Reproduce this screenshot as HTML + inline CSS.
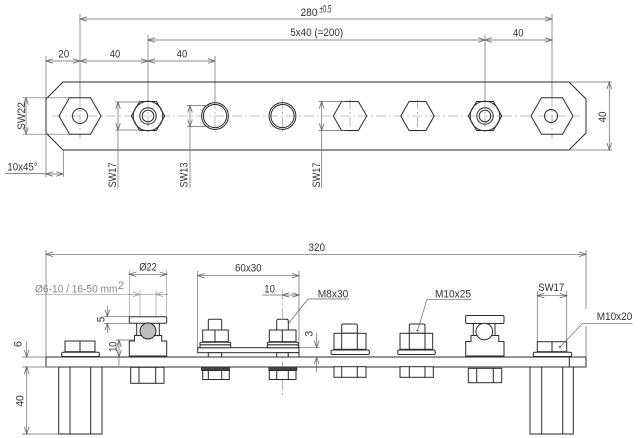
<!DOCTYPE html>
<html><head><meta charset="utf-8"><style>
html,body{margin:0;padding:0;background:#fff;}
svg{display:block;}
text{font-family:"Liberation Sans",sans-serif;fill:#333;font-size:11px;}
.o{fill:none;stroke:#2a2a2a;stroke-width:1;}
.of{fill:#fff;stroke:#2a2a2a;stroke-width:1;}
.d{fill:none;stroke:#666;stroke-width:0.7;}
.da{fill:none;stroke:#666;stroke-width:0.7;marker-start:url(#ar);marker-end:url(#ar);}
.de{fill:none;stroke:#666;stroke-width:0.7;marker-end:url(#ar);}
.g{fill:none;stroke:#999;stroke-width:0.7;}
.c{fill:none;stroke:#888;stroke-width:0.6;stroke-dasharray:10 3 2 3;}
</style></head><body>
<svg width="640" height="438" viewBox="0 0 640 438" xmlns="http://www.w3.org/2000/svg">
<defs>
<marker id="ar" markerUnits="userSpaceOnUse" markerWidth="10" markerHeight="6" viewBox="-9 -3 10 6" refX="0" refY="0" orient="auto-start-reverse"><path d="M-7,-2.3 L0,0 L-7,2.3" fill="none" stroke="#666" stroke-width="0.8"/></marker>
<marker id="arg" markerUnits="userSpaceOnUse" markerWidth="10" markerHeight="6" viewBox="-9 -3 10 6" refX="0" refY="0" orient="auto-start-reverse"><path d="M-7,-2.3 L0,0 L-7,2.3" fill="none" stroke="#999" stroke-width="0.8"/></marker>
</defs>

<!-- ================= TOP VIEW ================= -->
<line class="da" x1="80" y1="19" x2="552" y2="19"/>
<line class="da" x1="148" y1="40" x2="485" y2="40"/>
<line class="da" x1="485" y1="40" x2="552" y2="40"/>
<line class="da" x1="46" y1="61" x2="80" y2="61"/>
<line class="da" x1="80" y1="61" x2="148" y2="61"/>
<line class="da" x1="148" y1="61" x2="215" y2="61"/>
<line class="d" x1="80" y1="14" x2="80" y2="97"/>
<line class="d" x1="552" y1="14" x2="552" y2="97"/>
<line class="d" x1="148" y1="35" x2="148" y2="101"/>
<line class="d" x1="485" y1="35" x2="485" y2="101"/>
<line class="d" x1="46" y1="56" x2="46" y2="99"/>
<line class="d" x1="215" y1="56" x2="215" y2="102"/>

<text x="309" y="16" text-anchor="middle" font-size="12" textLength="17" lengthAdjust="spacingAndGlyphs">280</text>
<text x="319.5" y="12.5" font-size="6" textLength="12" lengthAdjust="spacingAndGlyphs">±0.5</text>
<text x="316.7" y="36" text-anchor="middle" textLength="53" lengthAdjust="spacingAndGlyphs">5x40 (=200)</text>
<text x="63.8" y="57.7" text-anchor="middle" textLength="11" lengthAdjust="spacingAndGlyphs">20</text>
<text x="115" y="57.7" text-anchor="middle" textLength="10.5" lengthAdjust="spacingAndGlyphs">40</text>
<text x="182" y="57.7" text-anchor="middle" textLength="10.5" lengthAdjust="spacingAndGlyphs">40</text>
<text x="518.3" y="36.7" text-anchor="middle" textLength="10.5" lengthAdjust="spacingAndGlyphs">40</text>

<path class="o" d="M63,82 L569,82 L586,99 L586,133 L569,150 L63,150 L46,133 L46,99 Z"/>
<line class="c" x1="52" y1="116" x2="580" y2="116"/>
<line class="c" x1="80" y1="97" x2="80" y2="139"/>
<line class="c" x1="148" y1="99" x2="148" y2="135"/>
<line class="c" x1="215" y1="99" x2="215" y2="135"/>
<line class="c" x1="282.5" y1="99" x2="282.5" y2="135"/>
<line class="c" x1="350" y1="99" x2="350" y2="135"/>
<line class="c" x1="417.5" y1="99" x2="417.5" y2="135"/>
<line class="c" x1="485" y1="99" x2="485" y2="135"/>
<line class="c" x1="552" y1="97" x2="552" y2="139"/>

<polygon class="o" points="59,116 69.5,97.8 90.5,97.8 101,116 90.5,134.2 69.5,134.2"/>
<circle class="o" cx="80" cy="116" r="7.5"/>
<polygon class="o" points="131.3,116 139.6,101.5 156.4,101.5 164.7,116 156.4,130.5 139.6,130.5"/>
<circle class="o" cx="148" cy="116" r="14.8" stroke-width="1.3"/>
<circle class="o" cx="148" cy="116" r="8.2" stroke-width="1.3"/>
<circle class="o" cx="148" cy="116" r="5.8" stroke-width="2.2"/>
<circle class="o" cx="215" cy="116" r="13.4" stroke-width="1.3"/>
<circle class="o" cx="215" cy="116" r="11.6" stroke-width="1.3"/>
<circle class="o" cx="282.5" cy="116" r="13.4" stroke-width="1.3"/>
<circle class="o" cx="282.5" cy="116" r="11.6" stroke-width="1.3"/>
<polygon class="o" points="333.3,116 341.6,101.5 358.4,101.5 366.7,116 358.4,130.5 341.6,130.5"/>
<polygon class="o" points="400.8,116 409.1,101.5 425.9,101.5 434.2,116 425.9,130.5 409.1,130.5"/>
<polygon class="o" points="468.3,116 476.6,101.5 493.4,101.5 501.7,116 493.4,130.5 476.6,130.5"/>
<circle class="o" cx="485" cy="116" r="14.8" stroke-width="1.3"/>
<circle class="o" cx="485" cy="116" r="8.2" stroke-width="1.3"/>
<circle class="o" cx="485" cy="116" r="5.8" stroke-width="2.2"/>
<polygon class="o" points="531,116 541.5,97.8 562.5,97.8 573,116 562.5,134.2 541.5,134.2"/>
<circle class="o" cx="551" cy="116" r="6.5"/>

<line class="d" x1="22.5" y1="97.8" x2="69" y2="97.8"/>
<line class="d" x1="22.5" y1="134.2" x2="69" y2="134.2"/>
<line class="da" x1="26" y1="97.8" x2="26" y2="134.2"/>
<text transform="translate(25,116) rotate(-90)" text-anchor="middle" textLength="28" lengthAdjust="spacingAndGlyphs">SW22</text>
<line class="d" x1="46" y1="133" x2="46" y2="177"/>
<line class="d" x1="63.3" y1="150" x2="63.3" y2="177"/>
<line class="d" x1="5" y1="173.5" x2="46" y2="173.5"/>
<line class="da" x1="46" y1="174" x2="63.3" y2="174"/>
<text x="7.3" y="170.7" textLength="30.4" lengthAdjust="spacingAndGlyphs">10x45°</text>
<line class="d" x1="115" y1="102" x2="142" y2="102"/>
<line class="d" x1="115" y1="130" x2="142" y2="130"/>
<line class="da" x1="118" y1="102" x2="118" y2="130"/>
<line class="d" x1="118" y1="130" x2="118" y2="188"/>
<text transform="translate(116,175) rotate(-90)" text-anchor="middle" textLength="25" lengthAdjust="spacingAndGlyphs">SW17</text>
<line class="d" x1="187" y1="105.5" x2="211" y2="105.5"/>
<line class="d" x1="187" y1="126.5" x2="211" y2="126.5"/>
<line class="da" x1="190" y1="105.5" x2="190" y2="126.5"/>
<line class="d" x1="190" y1="126.5" x2="190" y2="188"/>
<text transform="translate(187.5,175) rotate(-90)" text-anchor="middle" textLength="25" lengthAdjust="spacingAndGlyphs">SW13</text>
<line class="d" x1="318.5" y1="101.5" x2="345" y2="101.5"/>
<line class="d" x1="318.5" y1="130.5" x2="345" y2="130.5"/>
<line class="da" x1="321.7" y1="101.5" x2="321.7" y2="130.5"/>
<line class="d" x1="321.7" y1="130.5" x2="321.7" y2="188"/>
<text transform="translate(320,175) rotate(-90)" text-anchor="middle" textLength="25" lengthAdjust="spacingAndGlyphs">SW17</text>
<line class="d" x1="569" y1="82" x2="612" y2="82"/>
<line class="d" x1="569" y1="150" x2="612" y2="150"/>
<line class="da" x1="609.3" y1="82" x2="609.3" y2="150"/>
<text transform="translate(606,117) rotate(-90)" text-anchor="middle" textLength="11" lengthAdjust="spacingAndGlyphs">40</text>

<!-- ================= SIDE VIEW ================= -->
<line class="da" x1="46" y1="254.3" x2="586" y2="254.3"/>
<line class="d" x1="46" y1="250" x2="46" y2="357"/>
<line class="d" x1="586" y1="250" x2="586" y2="309"/>
<line class="d" x1="586" y1="326" x2="586" y2="357"/>
<text x="316.7" y="251" text-anchor="middle" textLength="16.7" lengthAdjust="spacingAndGlyphs">320</text>

<rect class="o" x="46" y="357" width="540" height="10"/>
<line class="o" x1="569.3" y1="357" x2="569.3" y2="367"/>
<rect class="o" x="58.7" y="367" width="43.3" height="67"/>
<line class="o" x1="70" y1="367" x2="70" y2="434"/>
<line class="o" x1="90.7" y1="367" x2="90.7" y2="434"/>
<rect class="o" x="530" y="367" width="43.3" height="67"/>
<line class="o" x1="541.7" y1="367" x2="541.7" y2="434"/>
<line class="o" x1="562.7" y1="367" x2="562.7" y2="434"/>

<line class="d" x1="22" y1="357" x2="46" y2="357"/>
<line class="d" x1="22" y1="367" x2="58.7" y2="367"/>
<line class="d" x1="22" y1="434" x2="58.7" y2="434"/>
<line class="de" x1="26.7" y1="342" x2="26.7" y2="357"/>
<line class="da" x1="26.7" y1="367" x2="26.7" y2="434"/>
<text transform="translate(21.5,344) rotate(-90)" text-anchor="middle" textLength="6" lengthAdjust="spacingAndGlyphs">6</text>
<text transform="translate(23.5,401) rotate(-90)" text-anchor="middle" textLength="11.5" lengthAdjust="spacingAndGlyphs">40</text>

<rect class="of" x="65" y="341" width="30" height="10.7"/>
<line class="o" x1="80" y1="341" x2="80" y2="351.7"/>
<rect class="of" x="61.7" y="352.2" width="37.6" height="4.3" rx="1.5"/>

<line class="g" x1="129.3" y1="270" x2="129.3" y2="316.7"/>
<line class="g" x1="166.7" y1="270" x2="166.7" y2="316.7"/>
<line class="da" x1="129.3" y1="274.3" x2="166.7" y2="274.3"/>
<text x="148" y="270.7" text-anchor="middle" textLength="17.4" lengthAdjust="spacingAndGlyphs">Ø22</text>
<line class="g" x1="35" y1="294.3" x2="163.3" y2="294.3"/>
<line x1="128" y1="294.3" x2="140" y2="294.3" stroke="#999" stroke-width="0.7" marker-end="url(#arg)"/>
<line x1="168" y1="294.3" x2="156" y2="294.3" stroke="#999" stroke-width="0.7" marker-end="url(#arg)"/>
<line class="g" x1="140" y1="290" x2="140" y2="316.7"/>
<line class="g" x1="156" y1="290" x2="156" y2="316.7"/>
<text x="35" y="292.7" style="fill:#888" textLength="82.5" lengthAdjust="spacingAndGlyphs">Ø6-10 / 16-50 mm</text>
<text x="117.8" y="288.8" style="fill:#888" font-size="6.5">2</text>

<rect class="of" x="129.3" y="316.7" width="37.4" height="6.6" rx="1"/>
<line class="o" x1="136.7" y1="323.3" x2="136.7" y2="336"/>
<line class="o" x1="159.3" y1="323.3" x2="159.3" y2="336"/>
<path class="of" d="M129.3,356 L129.3,341 L134.5,341 L134.5,335.5 L161.7,335.5 L161.7,341 L166.7,341 L166.7,356 Z"/>
<circle cx="148" cy="331" r="8" fill="#bdbdbd" stroke="#2a2a2a" stroke-width="1"/>
<rect class="of" x="130.7" y="367.3" width="33.3" height="16"/>
<line class="o" x1="139" y1="367.3" x2="139" y2="383.3"/>
<line class="o" x1="155.7" y1="367.3" x2="155.7" y2="383.3"/>
<line class="d" x1="104" y1="316.7" x2="129.3" y2="316.7"/>
<line class="d" x1="104" y1="323.3" x2="129.3" y2="323.3"/>
<line class="de" x1="107.3" y1="306" x2="107.3" y2="316.7"/>
<line class="de" x1="107.3" y1="333" x2="107.3" y2="323.3"/>
<text transform="translate(104.5,319.5) rotate(-90)" text-anchor="middle" textLength="5.5" lengthAdjust="spacingAndGlyphs">5</text>
<line class="d" x1="116" y1="340" x2="135" y2="340"/>
<line class="da" x1="119" y1="340" x2="119" y2="357"/>
<line class="d" x1="119" y1="357" x2="119" y2="366"/>
<text transform="translate(116.7,346.7) rotate(-90)" text-anchor="middle" textLength="10" lengthAdjust="spacingAndGlyphs">10</text>

<line class="d" x1="197.7" y1="271" x2="197.7" y2="347.7"/>
<line class="d" x1="299" y1="271" x2="299" y2="347.7"/>
<line class="da" x1="197.7" y1="275.7" x2="299" y2="275.7"/>
<text x="248.3" y="271.7" text-anchor="middle" textLength="26.7" lengthAdjust="spacingAndGlyphs">60x30</text>
<text x="264.3" y="292.3" textLength="10.7" lengthAdjust="spacingAndGlyphs">10</text>
<line class="d" x1="262" y1="295" x2="282.3" y2="295"/>
<line class="da" x1="282.3" y1="295" x2="299" y2="295"/>
<line class="c" x1="282.3" y1="290" x2="282.3" y2="395"/>
<text x="317.7" y="297.3" textLength="30.6" lengthAdjust="spacingAndGlyphs">M8x30</text>
<polyline class="d" points="349,299 308,299 286.5,326"/>
<circle cx="286.3" cy="327" r="1" fill="#333"/>
<line class="d" x1="299" y1="347.7" x2="320" y2="347.7"/>
<line class="de" x1="316.7" y1="333" x2="316.7" y2="347.7"/>
<line class="de" x1="316.7" y1="372" x2="316.7" y2="357"/>
<text transform="translate(312.5,333.7) rotate(-90)" text-anchor="middle" textLength="6" lengthAdjust="spacingAndGlyphs">3</text>

<rect class="of" x="197.7" y="347.7" width="101.3" height="5"/>
<path class="of" d="M208.3,330 L208.3,321 Q208.3,319.3 210,319.3 L220,319.3 Q221.7,319.3 221.7,321 L221.7,330 Z"/>
<rect class="of" x="202.7" y="330" width="25.6" height="11.7"/>
<line class="o" x1="215" y1="330" x2="215" y2="341.7"/>
<rect class="of" x="200" y="342.3" width="30.7" height="2.6" rx="1"/>
<rect class="of" x="200" y="344.9" width="30.7" height="2.8" rx="1"/>
<rect class="of" x="208.3" y="352.7" width="13.4" height="4.3"/>
<rect x="201.5" y="367" width="28" height="3.5" fill="#444" stroke="#2a2a2a" stroke-width="0.8"/>
<rect class="of" x="202.7" y="370.5" width="26.6" height="9"/>
<line class="o" x1="208.3" y1="370.5" x2="208.3" y2="379.5"/>
<line class="o" x1="221.7" y1="370.5" x2="221.7" y2="379.5"/>
<path class="of" d="M276.7,330 L276.7,321 Q276.7,319.3 278.4,319.3 L286.6,319.3 Q288.3,319.3 288.3,321 L288.3,330 Z"/>
<rect class="of" x="269.3" y="330" width="26.7" height="11.7"/>
<line class="o" x1="282.3" y1="330" x2="282.3" y2="341.7"/>
<rect class="of" x="267.3" y="342.3" width="31" height="2.6" rx="1"/>
<rect class="of" x="267.3" y="344.9" width="31" height="2.8" rx="1"/>
<rect class="of" x="276.7" y="352.7" width="11.6" height="4.3"/>
<rect class="of" x="288.3" y="352.7" width="10.7" height="4.3"/>
<rect x="268.8" y="367" width="28" height="3.5" fill="#444" stroke="#2a2a2a" stroke-width="0.8"/>
<rect class="of" x="269.3" y="370.5" width="26.7" height="9"/>
<line class="o" x1="276.7" y1="370.5" x2="276.7" y2="379.5"/>
<line class="o" x1="288.3" y1="370.5" x2="288.3" y2="379.5"/>

<path class="of" d="M341.7,333.3 L341.7,325.5 Q341.7,324 343.2,324 L355.8,324 Q357.3,324 357.3,325.5 L357.3,333.3 Z"/>
<rect class="of" x="334" y="333.3" width="32" height="16"/>
<line class="o" x1="341.7" y1="333.3" x2="341.7" y2="349.3"/>
<line class="o" x1="357.3" y1="333.3" x2="357.3" y2="349.3"/>
<rect class="of" x="331" y="350" width="38.3" height="4.5" rx="1.5"/>
<rect class="of" x="334" y="366.7" width="32" height="10.6"/>
<line class="o" x1="341.7" y1="366.7" x2="341.7" y2="377.3"/>
<line class="o" x1="357.3" y1="366.7" x2="357.3" y2="377.3"/>
<path class="of" d="M409.3,333.3 L409.3,325.5 Q409.3,324 410.8,324 L423.5,324 Q425,324 425,325.5 L425,333.3 Z"/>
<rect class="of" x="400" y="333.3" width="32.7" height="16"/>
<line class="o" x1="409.3" y1="333.3" x2="409.3" y2="349.3"/>
<line class="o" x1="425" y1="333.3" x2="425" y2="349.3"/>
<rect class="of" x="397.7" y="350" width="37.6" height="4.5" rx="1.5"/>
<rect class="of" x="400" y="366.7" width="33.3" height="10.6"/>
<line class="o" x1="409.3" y1="366.7" x2="409.3" y2="377.3"/>
<line class="o" x1="425" y1="366.7" x2="425" y2="377.3"/>
<text x="435" y="297.3" textLength="36" lengthAdjust="spacingAndGlyphs">M10x25</text>
<polyline class="d" points="471,299.3 427,299.3 418,329"/>
<circle cx="417.5" cy="330.5" r="1" fill="#333"/>

<rect class="of" x="465.7" y="315.5" width="38.3" height="8" rx="1.2"/>
<line class="o" x1="473.3" y1="323.5" x2="473.3" y2="340"/>
<line class="o" x1="495" y1="323.5" x2="495" y2="340"/>
<path class="of" d="M465.7,356 L465.7,341.5 L471,341.5 L471,335.5 L498.7,335.5 L498.7,341.5 L504,341.5 L504,356 Z"/>
<circle cx="484.3" cy="331.5" r="8.3" fill="#fff" stroke="#2a2a2a" stroke-width="1"/>
<rect class="of" x="468.3" y="368.3" width="33.4" height="14.4"/>
<line class="o" x1="476.7" y1="368.3" x2="476.7" y2="382.7"/>
<line class="o" x1="493.3" y1="368.3" x2="493.3" y2="382.7"/>

<line class="d" x1="537.3" y1="291" x2="537.3" y2="341.7"/>
<line class="d" x1="566.7" y1="291" x2="566.7" y2="341.7"/>
<line class="da" x1="537.3" y1="295.7" x2="566.7" y2="295.7"/>
<text x="551.3" y="291" text-anchor="middle" textLength="26" lengthAdjust="spacingAndGlyphs">SW17</text>
<rect class="of" x="537.3" y="341.7" width="29.4" height="10"/>
<line class="o" x1="552" y1="341.7" x2="552" y2="351.7"/>
<rect class="of" x="533.3" y="352.3" width="38.4" height="4.2" rx="1.5"/>
<text x="596.7" y="320" textLength="35.6" lengthAdjust="spacingAndGlyphs">M10x20</text>
<polyline class="d" points="632.5,323.3 582.7,323.3 561,346"/>
<circle cx="560" cy="346.7" r="1" fill="#333"/>
</svg>
</body></html>
